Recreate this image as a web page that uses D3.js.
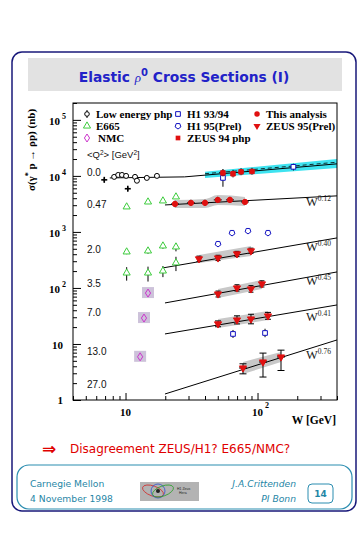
<!DOCTYPE html>
<html><head><meta charset="utf-8">
<script src="https://cdn.jsdelivr.net/npm/d3@7"></script>
<style>body{margin:0;background:#fff}svg{display:block}</style>
</head><body>
<svg id="c" width="363" height="535"></svg>
<script>
// ---------------- data ----------------
const xMajorTicks = [10, 100];
const xMajorLabels = [["10", ""], ["10", "2"]];
const xMinorTicks = [4,5,6,7,8,9,20,30,40,50,60,70,80,90,200,300,400];
const yMajorTicks = [1, 10, 100, 1000, 10000, 100000];
const yMajorLabels = [["1",""],["10",""],["10","2"],["10","3"],["10","4"],["10","5"]];
const yMinorTicks = [2,3,4,5,6,7,8,9,20,30,40,50,60,70,80,90,200,300,400,500,600,700,800,900,
  2e3,3e3,4e3,5e3,6e3,7e3,8e3,9e3,2e4,3e4,4e4,5e4,6e4,7e4,8e4,9e4,2e5];

const q2Labels = ["0.0","0.47","2.0","3.5","7.0","13.0","27.0"];
const q2LabelSig = [10000, 2680, 422, 104, 31.6, 6.4, 1.64];

// Low energy photoproduction
const lowW   = [6.9, 8.2, 8.8, 9.4, 10.1, 10.4, 11.8, 12.2, 14.5, 17.3];
const lowSig = [8500, 9600, 10400, 10400, 10000, 5900, 9600, 8200, 9200, 10000];
const lowErr = [600, 600, 700, 700, 700, 500, 700, 600, 700, 700];
const lowCross = [true, false, false, false, false, true, false, false, false, false];

// E665
const e665W      = [10.2, 14.8, 19.2, 24.1];
const e665Sig047 = [2800, 3430, 3580, 4220];
const e665SigA   = [440, 458, 562, 540];
const e665ErrA   = [40, 50, 60, 90];
const e665SigB   = [185, 185, 201, 280];
const e665ErrB   = [50, 55, 45, 80];

// NMC
const nmcW   = [14.8, 13.8, 12.9];
const nmcSig = [81, 29, 5.9];

// H1 93/94 (open squares)
const h1W    = [54.7, 187, 65.2, 114];
const h1Sig  = [9200, 14500, 15.1, 15.7];
const h1Up   = [3800, 2000, 2.7, 3];
const h1Dn   = [2800, 2000, 2.3, 2.5];

// H1 95 (Prel)
const h195W   = [50.2, 64.1, 84.7, 120];
const h195Sig = [611, 960, 1042, 960];

// ZEUS 94 php (filled squares)
const z94W   = [54.7, 65.2, 75, 90.8];
const z94Sig = [11300, 10900, 11800, 12000];

// This analysis, Q2 = 0.47
const taW   = [23.7, 31.3, 40, 50, 61.8, 80.3];
const taSig = [3160, 3300, 3300, 3730, 3730, 3430];

// ZEUS 95 (Prel), down triangles
const z95W2   = [36, 50.2, 69.9, 89.2];
const z95Sig2 = [330, 343, 405, 458];
const z95Up2  = [40, 40, 45, 55];
const z95Dn2  = [35, 35, 40, 45];
const z95W35   = [50.2, 69.9, 89.2, 108];
const z95Sig35 = [78, 100, 96, 118];
const z95Up35  = [10, 14, 14, 16];
const z95Dn35  = [9, 12, 12, 14];
const z95W7   = [50.2, 69.9, 89.2, 120];
const z95Sig7 = [22.8, 26.8, 27.9, 31.6];
const z95Up7  = [3, 5, 6, 5];
const z95Dn7  = [2.5, 4, 5, 4];
const z95W13   = [77.6, 110, 150.6];
const z95Sig13 = [3.73, 4.77, 5.86];
const z95Up13  = [0.7, 2.1, 1.9];
const z95Dn13  = [0.8, 2.2, 2.5];

// fit lines (W^delta)
const fit0W = [7.6, 28, 400],  fit0Sig = [9200, 9600, 16400];
const fit047W = [19.9, 400],   fit047Sig = [3030, 4400];
const fit2W = [19.2, 400],     fit2Sig = [228, 781];
const fit35W = [19.9, 400],    fit35Sig = [54, 193];
const fit7W = [19.9, 400],     fit7Sig = [15.1, 49.7];
const fit13W = [19.9, 400],    fit13Sig = [1.28, 11.8];
const fitLabels = ["0.12","0.40","0.45","0.41","0.76"];
const fitLabelSig = [2910, 458, 113, 25.8, 5.4];
const fitLabelW = 233;

// bands
const cyanW = [40, 400], cyanLo = [9200, 13900], cyanHi = [11800, 20100];
const band047W = [23.7, 40, 50, 80.3], band047Lo = [2680, 2680, 3030, 2910], band047Hi = [3730, 3880, 4580, 4220];
const band2W = [36, 89.2], band2Lo = [280, 373], band2Hi = [388, 562];
const band35W = [50.2, 108], band35Lo = [66, 96], band35Hi = [96, 139];
const band7W = [50.2, 120], band7Lo = [19.3, 26.8], band7Hi = [28, 38.8];
const band13W = [77.6, 150.6], band13Lo = [2.91, 4.77], band13Hi = [4.77, 7.2];

// ---------------- drawing ----------------
const svg = d3.select("#c");
const SERIF = "'Liberation Serif','Times New Roman',serif";
const SANS = "'DejaVu Sans',Verdana,sans-serif";
const HELV = "'Liberation Sans',Arial,sans-serif";

// outer frame
svg.append("rect").attr("x",12).attr("y",52).attr("width",344).attr("height",459)
  .attr("rx",10).attr("fill","#fff").attr("stroke","#18187a").attr("stroke-width",1.5);
// title box
svg.append("rect").attr("x",28).attr("y",58).attr("width",314).attr("height",33).attr("fill","#e2e2e2");
const tt = svg.append("text").attr("x",184).attr("y",82).attr("text-anchor","middle")
  .attr("font-family",SANS).attr("font-weight","bold").attr("font-size",13.8).attr("fill","#2222c8");
tt.append("tspan").text("Elastic ");
tt.append("tspan").attr("font-family",SERIF).attr("font-style","italic").attr("font-weight","normal").attr("font-size",13).text("ρ");
tt.append("tspan").attr("dy",-6).attr("font-size",10).text("0");
tt.append("tspan").attr("dy",6).text(" Cross Sections (I)");

const x = d3.scaleLog().domain([4,400]).range([73,337]);
const y = d3.scaleLog().domain([1,2e5]).range([400,103]);

svg.append("clipPath").attr("id","clip").append("rect").attr("x",73).attr("y",103).attr("width",264).attr("height",297);
const plot = svg.append("g").attr("clip-path","url(#clip)");

// bands
function band(W, lo, hi, fill){
  const rows = W.map((w,i)=>({w, lo:lo[i], hi:hi[i]}));
  plot.append("path").datum(rows).attr("fill",fill)
    .attr("d", d3.area().x(d=>x(d.w)).y0(d=>y(d.lo)).y1(d=>y(d.hi)).curve(d3.curveMonotoneX));
}
band(cyanW, cyanLo, cyanHi, "#3ee3f0");
band(band047W, band047Lo, band047Hi, "#c8c8c8");
band(band2W, band2Lo, band2Hi, "#c8c8c8");
band(band35W, band35Lo, band35Hi, "#c8c8c8");
band(band7W, band7Lo, band7Hi, "#c8c8c8");
band(band13W, band13Lo, band13Hi, "#c8c8c8");

// NMC backgrounds
nmcW.forEach((w,i)=>{
  plot.append("rect").attr("x",x(w)-6).attr("y",y(nmcSig[i])-6).attr("width",12).attr("height",11).attr("fill","#cdc2da");
});

// fit lines
const line = d3.line().x(d=>x(d[0])).y(d=>y(d[1]));
function fit(W,S,dash){
  plot.append("path").datum(W.map((w,i)=>[w,S[i]])).attr("d",line).attr("fill","none")
    .attr("stroke","#000").attr("stroke-width",1).attr("stroke-dasharray",dash||null);
}
fit(fit0W, fit0Sig);
plot.append("path").datum(cyanW.map((w,i)=>[w,Math.sqrt(cyanLo[i]*cyanHi[i])*1.05])).attr("d",line)
  .attr("fill","none").attr("stroke","#000").attr("stroke-width",0.8).attr("stroke-dasharray","4,3");
fit(fit047W, fit047Sig); fit(fit2W, fit2Sig); fit(fit35W, fit35Sig); fit(fit7W, fit7Sig); fit(fit13W, fit13Sig);

// error bars
function errs(W,S,up,dn,cap,col){
  W.forEach((w,i)=>{
    const cx=x(w);
    plot.append("line").attr("x1",cx).attr("x2",cx).attr("y1",y(S[i]+up[i])).attr("y2",y(S[i]-dn[i]))
      .attr("stroke",col||"#000").attr("stroke-width",1);
    if(cap){
      [S[i]+up[i], S[i]-dn[i]].forEach(v=>plot.append("line").attr("x1",cx-cap).attr("x2",cx+cap)
        .attr("y1",y(v)).attr("y2",y(v)).attr("stroke",col||"#000").attr("stroke-width",1));
    }
  });
}
function hbar(W,S,half){
  W.forEach((w,i)=>plot.append("line").attr("x1",x(w)-half).attr("x2",x(w)+half)
    .attr("y1",y(S[i])).attr("y2",y(S[i])).attr("stroke","#000").attr("stroke-width",1));
}
const sym = (type,size)=>d3.symbol().type(type).size(size)();
function marks(W,S,type,size,fill,stroke,rot){
  W.forEach((w,i)=>plot.append("path").attr("d",sym(type,size))
    .attr("transform",`translate(${x(w)},${y(S[i])})${rot?` rotate(${rot})`:""}`)
    .attr("fill",fill).attr("stroke",stroke).attr("stroke-width",1));
}
const pentagon = { draw(ctx,size){ const r=Math.sqrt(size/2.4);
  for(let k=0;k<5;k++){ const a=Math.PI/2+k*2*Math.PI/5; const px=r*Math.cos(a), py=r*Math.sin(a);
    k?ctx.lineTo(px,py):ctx.moveTo(px,py);} ctx.closePath(); } };

// low energy php
errs(lowW, lowSig, lowErr, lowErr, 0);
lowW.forEach((w,i)=>{
  if(lowCross[i]){
    plot.append("line").attr("x1",x(w)-3).attr("x2",x(w)+3).attr("y1",y(lowSig[i])).attr("y2",y(lowSig[i])).attr("stroke","#000").attr("stroke-width",1.6);
    plot.append("line").attr("x1",x(w)).attr("x2",x(w)).attr("y1",y(lowSig[i])-3).attr("y2",y(lowSig[i])+3).attr("stroke","#000").attr("stroke-width",1.6);
  } else {
    plot.append("circle").attr("cx",x(w)).attr("cy",y(lowSig[i])).attr("r",2.5).attr("fill","#fff").attr("stroke","#000");
  }
});

// E665
errs(e665W, e665SigA, e665ErrA, e665ErrA, 0);
errs(e665W, e665SigB, e665ErrB, e665ErrB, 0);
marks(e665W, e665Sig047, d3.symbolTriangle, 22, "#fff", "#3ccc3c");
marks(e665W, e665SigA, d3.symbolTriangle, 22, "#fff", "#3ccc3c");
marks(e665W, e665SigB, d3.symbolTriangle, 22, "#fff", "#3ccc3c");

// NMC
nmcW.forEach((w,i)=>plot.append("path").attr("d","M0,-4L2.6,0L0,4L-2.6,0Z")
  .attr("transform",`translate(${x(w)},${y(nmcSig[i])})`).attr("fill","none").attr("stroke","#cc33cc").attr("stroke-width",1));

// H1 93/94
errs(h1W, h1Sig, h1Up, h1Dn, 0, "#000");
marks(h1W, h1Sig, d3.symbolSquare, 22, "#fff", "#1010c0");
// H1 95 prel
marks(h195W, h195Sig, pentagon, 22, "#fff", "#1010c0");

// ZEUS 94 php
errs(z94W, z94Sig, [1900,1900,1900,1900], [1500,1500,1500,1500], 0);
marks(z94W, z94Sig, d3.symbolSquare, 20, "#e01010", "#e01010");
// This analysis
errs(taW, taSig, [450,450,450,500,500,450], [400,400,400,450,450,400], 0);
hbar(taW, taSig, 4);
marks(taW, taSig, d3.symbolCircle, 22, "#e01010", "#e01010");
// ZEUS 95 prel
errs(z95W2, z95Sig2, z95Up2, z95Dn2, 2.5);
errs(z95W35, z95Sig35, z95Up35, z95Dn35, 2.5);
errs(z95W7, z95Sig7, z95Up7, z95Dn7, 3);
errs(z95W13, z95Sig13, z95Up13, z95Dn13, 3.5);
hbar(z95W13, z95Sig13, 4);
marks(z95W2, z95Sig2, d3.symbolTriangle, 22, "#e01010", "#e01010", 180);
marks(z95W35, z95Sig35, d3.symbolTriangle, 22, "#e01010", "#e01010", 180);
marks(z95W7, z95Sig7, d3.symbolTriangle, 22, "#e01010", "#e01010", 180);
marks(z95W13, z95Sig13, d3.symbolTriangle, 22, "#e01010", "#e01010", 180);

// fit labels
fitLabels.forEach((s,i)=>{
  const t = svg.append("text").attr("x",x(fitLabelW)).attr("y",y(fitLabelSig[i]))
    .attr("font-family",SERIF).attr("font-size",12.5).attr("fill","#222");
  t.append("tspan").text("W");
  t.append("tspan").attr("dy",-5).attr("font-size",7.5).text(s);
});

// Q2 labels
svg.append("text").attr("x",87).attr("y",158).attr("font-family",HELV).attr("font-size",9.5).attr("fill","#111")
  .html('&lt;Q<tspan dy="-3" font-size="6.5">2</tspan><tspan dy="3">&gt; [GeV</tspan><tspan dy="-3" font-size="6.5">2</tspan><tspan dy="3">]</tspan>');
q2Labels.forEach((s,i)=>svg.append("text").attr("x",87).attr("y",y(q2LabelSig[i]))
  .attr("font-family",HELV).attr("font-size",10).attr("fill","#111").text(s));

// axes frame
svg.append("rect").attr("x",73).attr("y",103).attr("width",264).attr("height",297)
  .attr("fill","none").attr("stroke","#000").attr("stroke-width",1);
const gx = svg.append("g").attr("transform","translate(0,400)");
gx.call(d3.axisBottom(x).tickValues(xMajorTicks).tickSize(-7).tickFormat(""));
const gx2 = svg.append("g").attr("transform","translate(0,400)");
gx2.call(d3.axisBottom(x).tickValues(xMinorTicks).tickSize(-4).tickFormat(""));
const gy = svg.append("g").attr("transform","translate(73,0)");
gy.call(d3.axisLeft(y).tickValues(yMajorTicks).tickSize(-8).tickFormat(""));
const gy2 = svg.append("g").attr("transform","translate(73,0)");
gy2.call(d3.axisLeft(y).tickValues(yMinorTicks).tickSize(-4).tickFormat(""));
[gx,gx2,gy,gy2].forEach(g=>{g.select(".domain").remove(); g.selectAll("line").attr("stroke","#000");});

xMajorTicks.forEach((v,i)=>{
  const t = svg.append("text").attr("x",x(v)+(xMajorLabels[i][1]?3:0)).attr("y",416).attr("text-anchor","middle")
    .attr("font-family",SERIF).attr("font-weight","bold").attr("font-size",11).attr("fill","#000");
  t.append("tspan").text(xMajorLabels[i][0]);
  if(xMajorLabels[i][1]) t.append("tspan").attr("dx",2).attr("dy",-8).attr("font-size",8).text(xMajorLabels[i][1]);
});
yMajorTicks.forEach((v,i)=>{
  const sup = yMajorLabels[i][1];
  const t = svg.append("text").attr("x",sup?66:63).attr("y",y(v)+ (v===1?4:5)).attr("text-anchor","end")
    .attr("font-family",SERIF).attr("font-weight","bold").attr("font-size",11).attr("fill","#000");
  t.append("tspan").text(yMajorLabels[i][0]);
  if(sup) t.append("tspan").attr("dx",2).attr("dy",-6).attr("font-size",8).text(sup);
});
svg.append("text").attr("x",336).attr("y",424).attr("text-anchor","end").attr("font-family",SERIF)
  .attr("font-weight","bold").attr("font-size",11.5).text("W [GeV]");
svg.append("text").attr("transform","translate(35,150) rotate(-90)").attr("text-anchor","middle")
  .attr("font-family",SERIF).attr("font-weight","bold").attr("font-size",11)
  .html('σ(γ<tspan dy="-4" font-size="8">*</tspan><tspan dy="4"> p → ρp) (nb)</tspan>');

// legend
const legend = [
  {lab:"Low energy php", kx:87, ky:114, k:"low"},
  {lab:"E665", kx:87, ky:126, k:"tri"},
  {lab:"NMC", kx:87, ky:138, k:"dia"},
  {lab:"H1 93/94", kx:178, ky:114, k:"sq"},
  {lab:"H1 95(Prel)", kx:178, ky:126, k:"pent"},
  {lab:"ZEUS 94 php", kx:178, ky:138, k:"fsq"},
  {lab:"This analysis", kx:257, ky:114, k:"circ"},
  {lab:"ZEUS 95(Prel)", kx:257, ky:126, k:"dtri"}
];
legend.forEach(d=>{
  const g = svg.append("g").attr("transform",`translate(${d.kx},${d.ky})`);
  if(d.k==="low"){ g.append("line").attr("y1",-4).attr("y2",4).attr("stroke","#000");
    g.append("circle").attr("r",2.3).attr("fill","#fff").attr("stroke","#000"); }
  if(d.k==="tri") g.append("path").attr("d",sym(d3.symbolTriangle,22)).attr("fill","#fff").attr("stroke","#3ccc3c");
  if(d.k==="dia") g.append("path").attr("d","M0,-4L2.6,0L0,4L-2.6,0Z").attr("fill","none").attr("stroke","#cc33cc");
  if(d.k==="sq") g.append("path").attr("d",sym(d3.symbolSquare,22)).attr("fill","#fff").attr("stroke","#1010c0");
  if(d.k==="pent") g.append("path").attr("d",sym(pentagon,22)).attr("fill","#fff").attr("stroke","#1010c0");
  if(d.k==="fsq") g.append("path").attr("d",sym(d3.symbolSquare,22)).attr("fill","#e01010");
  if(d.k==="circ") g.append("path").attr("d",sym(d3.symbolCircle,24)).attr("fill","#e01010");
  if(d.k==="dtri") g.append("path").attr("d",sym(d3.symbolTriangle,22)).attr("transform","rotate(180)").attr("fill","#e01010");
  svg.append("text").attr("x",d.kx+(d.k==="dia"?11:9)).attr("y",d.ky+4).attr("font-family",SERIF)
    .attr("font-weight","bold").attr("font-size",11).attr("fill","#000").text(d.lab);
});

// conclusion line
svg.append("text").attr("x",42).attr("y",455).attr("font-family",SANS).attr("font-weight","bold").attr("font-size",17).attr("fill","#e00000").text("⇒");
svg.append("text").attr("x",70).attr("y",453).attr("font-family",SANS).attr("font-size",12).attr("fill","#e00000")
  .text("Disagreement ZEUS/H1?  E665/NMC?");

// footer
svg.append("rect").attr("x",17).attr("y",465).attr("width",335).attr("height",44).attr("rx",12)
  .attr("fill","#fff").attr("stroke","#2b8db0").attr("stroke-width",1.2);
const FC = "#1f86a6";
svg.append("text").attr("x",30).attr("y",487).attr("font-family",SANS).attr("font-size",9.2).attr("fill",FC).text("Carnegie Mellon");
svg.append("text").attr("x",30).attr("y",502).attr("font-family",SANS).attr("font-size",9.2).attr("fill",FC).text("4 November 1998");
svg.append("text").attr("x",296).attr("y",487).attr("text-anchor","end").attr("font-family",SANS).attr("font-style","italic").attr("font-size",9.2).attr("fill",FC).text("J.A.Crittenden");
svg.append("text").attr("x",296).attr("y",502).attr("text-anchor","end").attr("font-family",SANS).attr("font-style","italic").attr("font-size",9.2).attr("fill",FC).text("PI Bonn");
svg.append("rect").attr("x",308).attr("y",484).attr("width",25).attr("height",19).attr("rx",4)
  .attr("fill","#fff").attr("stroke","#2b8db0").attr("stroke-width",1);
svg.append("text").attr("x",320.5).attr("y",497).attr("text-anchor","middle").attr("font-family",SANS).attr("font-weight","bold").attr("font-size",9).attr("fill",FC).text("14");
// logo
const lg = svg.append("g");
lg.append("rect").attr("x",140).attr("y",482).attr("width",59).attr("height",19).attr("fill","#b3b3b3");
lg.append("ellipse").attr("cx",153).attr("cy",491).attr("rx",11).attr("ry",5).attr("fill","none").attr("stroke","#d03030").attr("stroke-width",0.8).attr("transform","rotate(20,153,491)");
lg.append("ellipse").attr("cx",158).attr("cy",491).attr("rx",7).attr("ry",7).attr("fill","none").attr("stroke","#3050d0").attr("stroke-width",0.8);
lg.append("ellipse").attr("cx",163).attr("cy",491).attr("rx",11).attr("ry",5).attr("fill","none").attr("stroke","#30a030").attr("stroke-width",0.8).attr("transform","rotate(-20,163,491)");
lg.append("circle").attr("cx",158).attr("cy",491).attr("r",2).attr("fill","#222");
lg.append("text").attr("x",177).attr("y",490).attr("font-family",HELV).attr("font-size",3.5).attr("fill","#222").text("H1 Zeus");
lg.append("text").attr("x",179).attr("y",494).attr("font-family",HELV).attr("font-size",3.5).attr("fill","#222").text("Hera");
</script>
</body></html>
